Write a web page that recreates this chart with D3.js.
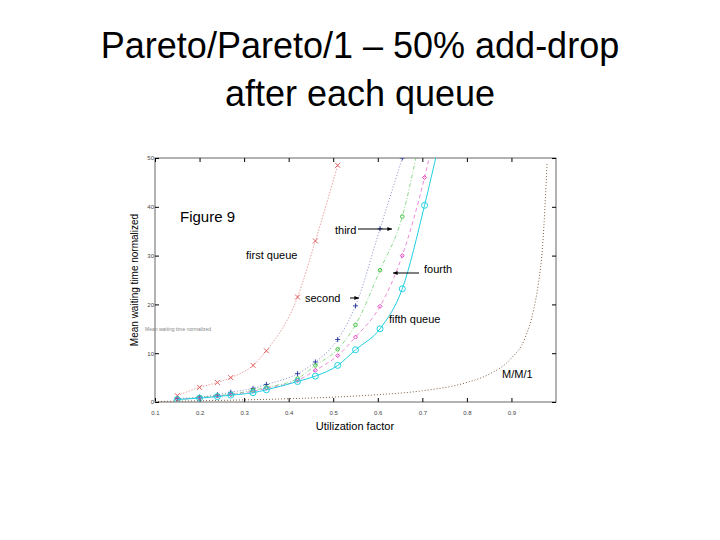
<!DOCTYPE html>
<html><head><meta charset="utf-8">
<script src="https://cdn.jsdelivr.net/npm/d3@7"></script>
<style>body{margin:0;background:#fff}</style>
</head><body><svg width="720" height="540"></svg>
<script>
const xs = [0.15, 0.2, 0.24, 0.27, 0.32, 0.35, 0.42, 0.46, 0.51, 0.55, 0.605, 0.655, 0.705];
const first = [1.3, 3, 4, 5, 7.5, 10.5, 21.5, 33, 48.5];
const second = [0.7, 1, 1.5, 2, 2.8, 3.6, 5.8, 8.2, 12.8, 19.7, 35.5, 50];
const third = [0.6, 0.9, 1.3, 1.6, 2.4, 3, 4.8, 7.5, 10.8, 15.8, 27, 38];
const fourth = [0.6, 0.8, 1.2, 1.5, 2.2, 2.8, 4.4, 6.5, 9.5, 13.3, 19.6, 30, 46];
const fifth = [0.5, 0.8, 1.1, 1.4, 1.9, 2.5, 4.2, 5.3, 7.5, 10.7, 15, 23.2, 40.3];
const mmX = [0.1, 0.2, 0.3, 0.4, 0.5, 0.6, 0.7, 0.8, 0.85, 0.9, 0.93, 0.95, 0.96, 0.97, 0.98];
const mmY = [0.1, 0.25, 0.43, 0.67, 1, 1.5, 2.3, 4, 5.7, 9, 13, 19, 24, 32, 49];
const xTicks = [0.1, 0.2, 0.3, 0.4, 0.5, 0.6, 0.7, 0.8, 0.9];
const yTicks = [0, 10, 20, 30, 40, 50];

const svg = d3.select("svg");
svg.append("text").attr("x", 360).attr("y", 58).attr("text-anchor", "middle")
  .attr("font-family", "Liberation Sans, Arial").attr("font-size", 36).text("Pareto/Pareto/1 – 50% add-drop");
svg.append("text").attr("x", 360).attr("y", 106).attr("text-anchor", "middle")
  .attr("font-family", "Liberation Sans, Arial").attr("font-size", 36).text("after each queue");

const x = d3.scaleLinear().domain([0.1, 1.0]).range([155, 556]);
const y = d3.scaleLinear().domain([0, 50]).range([402, 158]);
const g = svg.append("g").attr("font-family", "Liberation Sans, Arial");

g.append("rect").attr("x", 155).attr("y", 158).attr("width", 401).attr("height", 244)
  .attr("fill", "none").attr("stroke", "#666").attr("stroke-width", 1);
g.append("g").attr("transform", "translate(0,402)")
  .call(d3.axisBottom(x).tickValues(xTicks).tickSize(-4).tickFormat(d3.format(".1f")))
  .call(a => a.select(".domain").remove())
  .call(a => a.selectAll("text").attr("font-size", 6).attr("dy", 10).attr("fill", "#444"));
g.append("g").attr("transform", "translate(155,0)")
  .call(d3.axisLeft(y).tickValues(yTicks).tickSize(-4))
  .call(a => a.select(".domain").remove())
  .call(a => a.selectAll("text").attr("font-size", 6).attr("dx", 2).attr("fill", "#444"));
g.append("g").attr("transform", "translate(556,0)")
  .call(d3.axisRight(y).tickValues(yTicks).tickSize(-4).tickFormat(""))
  .call(a => a.select(".domain").remove());
g.append("g").attr("transform", "translate(0,158)")
  .call(d3.axisTop(x).tickValues(xTicks).tickSize(-4).tickFormat(""))
  .call(a => a.select(".domain").remove());

g.append("text").attr("x", 355).attr("y", 430).attr("text-anchor", "middle").attr("font-size", 11).text("Utilization factor");
g.append("text").attr("transform", "translate(138,280) rotate(-90)").attr("text-anchor", "middle")
  .attr("font-size", 10).text("Mean waiting time normalized");

svg.append("clipPath").attr("id", "c").append("rect")
  .attr("x", 155).attr("y", 158).attr("width", 401).attr("height", 244);
const plot = g.append("g").attr("clip-path", "url(#c)");
const line = d3.line().x(d => x(d[0])).y(d => y(d[1])).curve(d3.curveMonotoneX);

const series = [
  {v: first, c: "#e06060", dash: "1.5,1.5", m: "x"},
  {v: second, c: "#3040a0", dash: "1,2", m: "+"},
  {v: third, c: "#40c040", dash: "4,2,1,2", m: "o"},
  {v: fourth, c: "#e040c0", dash: "4,3", m: "d"},
  {v: fifth, c: "#20d0e0", dash: null, m: "O"}
];
series.forEach(s => {
  const pts = s.v.map((v, i) => [xs[i], v]);
  const ext = s.m === "O" ? pts.concat([[0.735, 52]]) : s.m === "d" ? pts.concat([[0.73, 56]]) : s.m === "o" ? pts.concat([[0.69, 52]]) : pts;
  plot.append("path").attr("d", line(ext)).attr("fill", "none").attr("stroke", s.c)
    .attr("stroke-width", 1).attr("stroke-opacity", s.m === "O" ? 1 : 0.6).attr("stroke-dasharray", s.dash);
  pts.forEach(p => {
    const px = x(p[0]), py = y(p[1]);
    if (s.m === "x") plot.append("path").attr("d", `M${px-2.5},${py-2.5}L${px+2.5},${py+2.5}M${px-2.5},${py+2.5}L${px+2.5},${py-2.5}`).attr("stroke", s.c);
    else if (s.m === "+") plot.append("path").attr("d", `M${px-2.5},${py}L${px+2.5},${py}M${px},${py-2.5}L${px},${py+2.5}`).attr("stroke", s.c);
    else if (s.m === "o") plot.append("circle").attr("cx", px).attr("cy", py).attr("r", 1.8).attr("fill", "none").attr("stroke", s.c);
    else if (s.m === "d") plot.append("path").attr("d", `M${px},${py-2}L${px+2},${py}L${px},${py+2}L${px-2},${py}Z`).attr("fill", "none").attr("stroke", s.c);
    else plot.append("circle").attr("cx", px).attr("cy", py).attr("r", 3).attr("fill", "none").attr("stroke", s.c);
  });
});
plot.append("path").attr("d", line(mmX.map((v, i) => [v, mmY[i]]))).attr("fill", "none")
  .attr("stroke", "#806040").attr("stroke-width", 1).attr("stroke-dasharray", "1,2");

const lab = (t, px, py, fs) => g.append("text").attr("x", px).attr("y", py).attr("font-size", fs).text(t);
lab("Figure 9", 180, 222, 15);
lab("first queue", 246, 259, 11);
lab("third", 335, 234, 11);
lab("second", 305, 302, 11);
lab("fourth", 424, 273, 11);
lab("fifth queue", 389, 323, 11);
lab("M/M/1", 502, 378, 11);
g.append("text").attr("x", 145).attr("y", 331).attr("font-size", 5).attr("fill", "#888").text("Mean waiting time normalized");
const arrow = (x1, y1, x2, y2) => {
  g.append("line").attr("x1", x1).attr("y1", y1).attr("x2", x2).attr("y2", y2).attr("stroke", "#000");
  const a = Math.atan2(y2 - y1, x2 - x1);
  g.append("path").attr("d", `M${x2},${y2}L${x2-5*Math.cos(a-0.4)},${y2-5*Math.sin(a-0.4)}L${x2-5*Math.cos(a+0.4)},${y2-5*Math.sin(a+0.4)}Z`);
};
arrow(358, 229, 392, 229);
arrow(350, 298, 359, 298);
arrow(419, 273, 393, 273);
</script></body></html>
